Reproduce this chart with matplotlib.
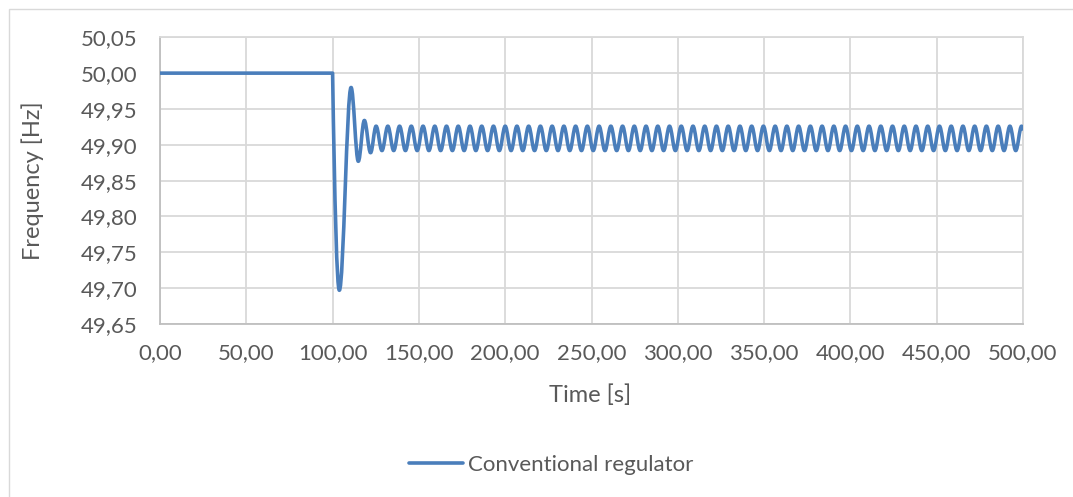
import matplotlib
matplotlib.use("Agg")
import matplotlib.pyplot as plt
from matplotlib.path import Path
from matplotlib.patches import PathPatch, Rectangle
from matplotlib.lines import Line2D
from matplotlib.ticker import FixedLocator, FuncFormatter

# load step and transient (extrema)
event_t = [0.0, 100.0, 103.9, 110.7, 114.9, 118.4, 122.0]
event_f = [50.00, 50.00, 49.697, 49.980, 49.877, 49.934, 49.889]

# steady oscillation: times of the maxima / minima
peak_t = [125.2, 132.0, 138.8, 145.6, 152.4, 159.2, 166.0, 172.8, 179.6, 186.4,
          193.2, 200.0, 206.8, 213.6, 220.4, 227.2, 234.0, 240.8, 247.6, 254.4,
          261.2, 268.0, 274.8, 281.6, 288.4, 295.2, 302.0, 308.8, 315.6, 322.4,
          329.2, 336.0, 342.8, 349.6, 356.4, 363.2, 370.0, 376.8, 383.6, 390.4,
          397.2, 404.0, 410.8, 417.6, 424.4, 431.2, 438.0, 444.8, 451.6, 458.4,
          465.2, 472.0, 478.8, 485.6, 492.4, 499.2]
trough_t = [128.6, 135.4, 142.2, 149.0, 155.8, 162.6, 169.4, 176.2, 183.0, 189.8,
            196.6, 203.4, 210.2, 217.0, 223.8, 230.6, 237.4, 244.2, 251.0, 257.8,
            264.6, 271.4, 278.2, 285.0, 291.8, 298.6, 305.4, 312.2, 319.0, 325.8,
            332.6, 339.4, 346.2, 353.0, 359.8, 366.6, 373.4, 380.2, 387.0, 393.8,
            400.6, 407.4, 414.2, 421.0, 427.8, 434.6, 441.4, 448.2, 455.0, 461.8,
            468.6, 475.4, 482.2, 489.0, 495.8]
peak_f = 49.926
trough_f = 49.892
end_t, end_f = 500.0, 49.922

x_ticks = [0, 50, 100, 150, 200, 250, 300, 350, 400, 450, 500]
y_ticks = [49.65, 49.70, 49.75, 49.80, 49.85, 49.90, 49.95, 50.00, 50.05]

series_label = "Conventional regulator"
line_color = "#4a7ebb"
text_color = "#595959"
grid_color = "#d9d9d9"

plt.rcParams['font.family'] = ['Lato', 'DejaVu Sans']
fs = 16

fig = plt.figure(figsize=(10.73, 4.97), dpi=100)
ax = fig.add_axes([160 / 1073, 1 - 324 / 497, 863 / 1073, 286.7 / 497])

# extrema in time order
osc = sorted([(t, peak_f) for t in peak_t] + [(t, trough_f) for t in trough_t])
pts = list(zip(event_t, event_f)) + osc + [(end_t, end_f)]

# smooth curve between extrema (horizontal tangent at each extremum)
verts = [pts[0], pts[1]]
codes = [Path.MOVETO, Path.LINETO]
(t0, v0), (t1, v1) = pts[1], pts[2]
dt = t1 - t0
verts += [(t0 + 0.3 * dt, v0 + 0.6 * (v1 - v0)), (t1 - 0.35 * dt, v1), (t1, v1)]
codes += [Path.CURVE4] * 3
c = 0.364
for (t0, v0), (t1, v1) in zip(pts[2:-1], pts[3:]):
    dt = t1 - t0
    verts += [(t0 + c * dt, v0), (t1 - c * dt, v1), (t1, v1)]
    codes += [Path.CURVE4] * 3
ax.add_patch(PathPatch(Path(verts, codes), facecolor='none', edgecolor=line_color,
                       lw=2.6, capstyle='round', joinstyle='round', zorder=3))

ax.set_xlim(0, 500)
ax.set_ylim(49.65, 50.05)
ax.xaxis.set_major_locator(FixedLocator(x_ticks))
ax.yaxis.set_major_locator(FixedLocator(y_ticks))
ax.xaxis.set_major_formatter(FuncFormatter(lambda v, p: f"{v:.2f}".replace('.', ',')))
ax.yaxis.set_major_formatter(FuncFormatter(lambda v, p: f"{v:.2f}".replace('.', ',')))
ax.tick_params(axis='both', length=0, labelsize=fs, labelcolor=text_color)
ax.tick_params(axis='y', pad=16)
ax.tick_params(axis='x', pad=14)
ax.grid(True, color=grid_color, lw=1.3)
ax.set_axisbelow(True)
for spine in ax.spines.values():
    spine.set_color(grid_color)
    spine.set_linewidth(1.3)
ax.spines['left'].set_color('#bfbfbf')
ax.spines['bottom'].set_color('#bfbfbf')

ax.set_xlabel("Time [s]", fontsize=fs + 1, color=text_color, va='center')
ax.xaxis.set_label_coords(0.498, -0.248)
ax.set_ylabel("Frequency [Hz]", fontsize=fs + 1, color=text_color, va='center')
ax.yaxis.set_label_coords(-0.147, 0.5)

handle = Line2D([], [], color=line_color, lw=2.6, solid_capstyle='round')
fig.legend([handle], [series_label], loc='center', bbox_to_anchor=(551 / 1073, 1 - 465 / 497),
           frameon=False, fontsize=fs, labelcolor=text_color, handlelength=2.45,
           handletextpad=0.2)

fig.patches.append(Rectangle((9 / 1073, -0.05), 1.1, 1.05 - 9 / 497, transform=fig.transFigure,
                             fill=False, edgecolor=grid_color, lw=1))

fig.savefig("out.png", dpi=100)
